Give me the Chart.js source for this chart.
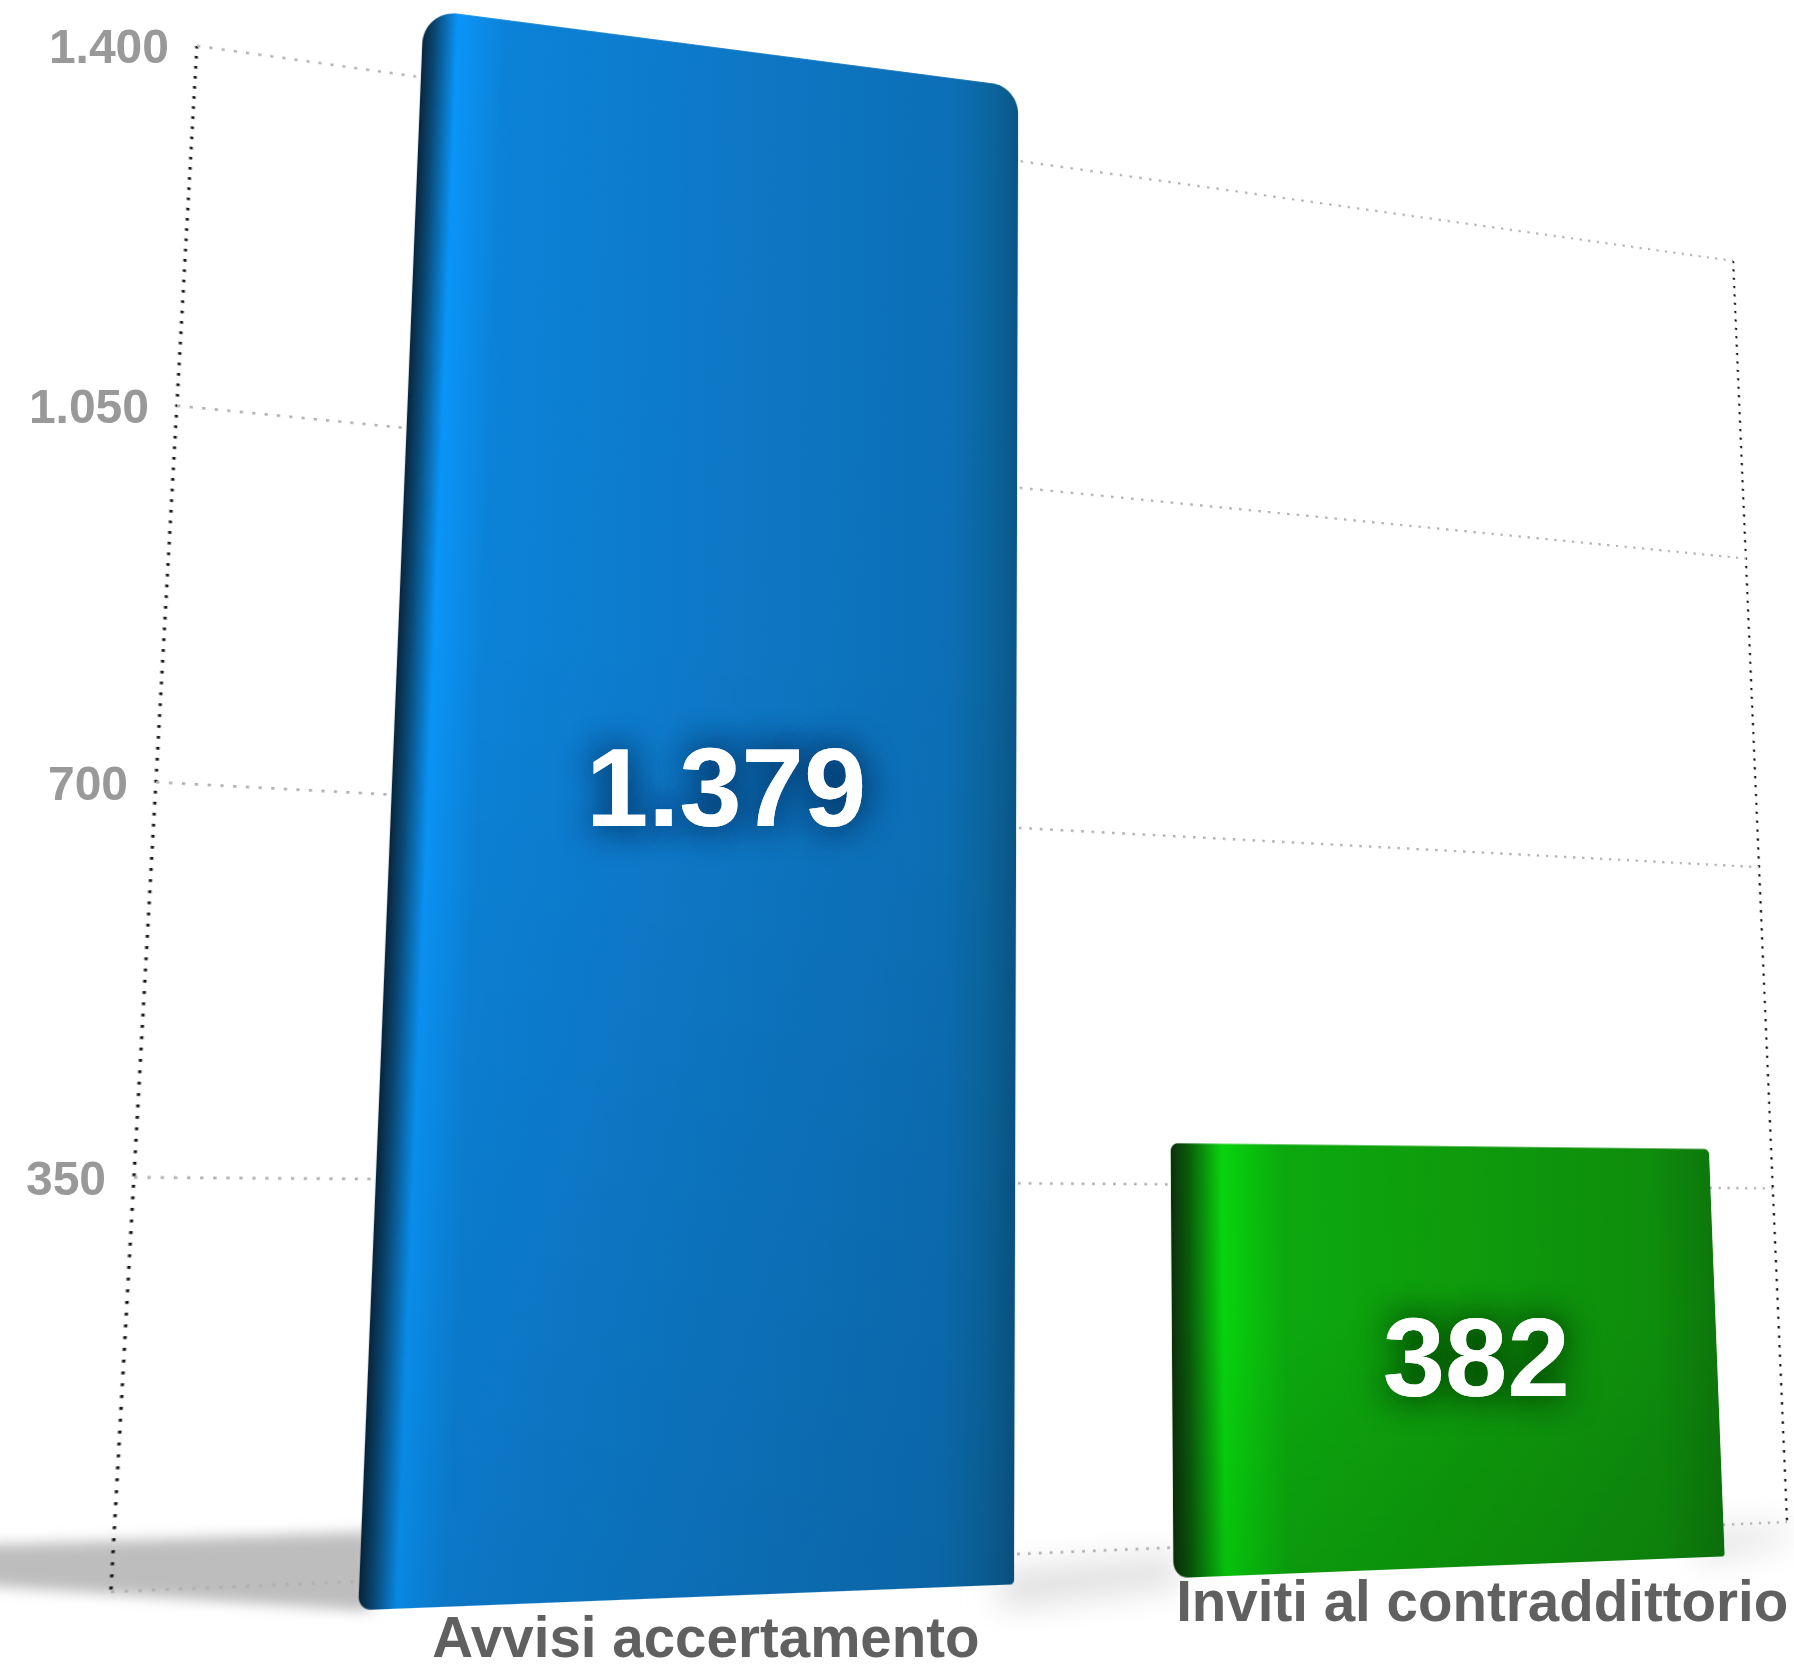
<!DOCTYPE html>
<html>
<head>
<meta charset="utf-8">
<title>Avvisi accertamento e inviti al contraddittorio</title>
<script src="https://cdn.jsdelivr.net/npm/chart.js@4/dist/chart.umd.min.js"></script>
<style>
  html, body { margin: 0; padding: 0; background: #fff; overflow: hidden; }
  #stage { position: relative; width: 1794px; height: 1665px; overflow: hidden; }
  #stage canvas, #stage svg { position: absolute; left: 0; top: 0; transform-origin: 0 0; }
</style>
</head>
<body>
<div id="stage">
  <svg width="1794" height="1665">
    <defs>
      <filter id="soft" x="-20%" y="-50%" width="140%" height="200%"><feGaussianBlur stdDeviation="7"/></filter>
      <filter id="softer" x="-30%" y="-80%" width="160%" height="260%"><feGaussianBlur stdDeviation="16"/></filter>
    </defs>
    <polygon points="-40,1546 370,1532 370,1611 -40,1584" fill="#bdbdbd" filter="url(#soft)"/>
    <polygon points="1000,1572 1180,1555 1180,1585 1000,1608" fill="#dedede" filter="url(#softer)"/>
    <polygon points="1700,1530 1790,1525 1790,1540 1700,1565" fill="#e4e4e4" filter="url(#softer)"/>
  </svg>
  <canvas id="backChart" width="1794" height="1665"></canvas>
  <canvas id="frontChart" width="1794" height="1665"></canvas>
  <canvas id="labels" width="1794" height="1665"></canvas>
</div>
<script>
const categories = ['Avvisi accertamento', 'Inviti al contraddittorio'];
const values = [1379, 382];
const valueLabels = ['1.379', '382'];
const tickValues = [0, 350, 700, 1050, 1400];
const tickLabels = ['', '350', '700', '1.050', '1.400'];

// where the plot and the bars land on the page (perspective of the picture)
const backQuad = [[197, 46], [1733, 261], [1787, 1522], [111, 1592]];
const frontQuad = [
    [[428, 5], [1014, 89], [1011, 1585], [360, 1613]],
    [[1169, 1147], [1711, 1152], [1728, 1552], [1171, 1575]]
];

const barStops = [
    [[0, '#08263c'], [0.02, '#0a4a78'], [0.055, '#0a95f8'], [0.13, '#0c82d8'], [0.5, '#0d78c6'], [0.88, '#0c6fb6'], [0.95, '#0b669f'], [1, '#0a5688']],
    [[0, '#0a300a'], [0.03, '#0a5a0a'], [0.09, '#08d40e'], [0.2, '#0ca80e'], [0.5, '#0e9c0c'], [0.88, '#0e8d0c'], [1, '#0d780c']]
];
const glowColors = ['rgba(0, 45, 90, 0.75)', 'rgba(0, 60, 0, 0.75)'];
const categoryNudge = [[8, 44], [24, 38]];
const valueNudge = [[11, 9], [23, 11]];

function solveLinear(a, b) {
    const n = b.length;
    for (let i = 0; i < n; i++) {
        let p = i;
        for (let r = i + 1; r < n; r++) if (Math.abs(a[r][i]) > Math.abs(a[p][i])) p = r;
        [a[i], a[p]] = [a[p], a[i]];
        [b[i], b[p]] = [b[p], b[i]];
        for (let r = i + 1; r < n; r++) {
            const f = a[r][i] / a[i][i];
            for (let c = i; c < n; c++) a[r][c] -= f * a[i][c];
            b[r] -= f * b[i];
        }
    }
    const x = new Array(n);
    for (let i = n - 1; i >= 0; i--) {
        let s = b[i];
        for (let c = i + 1; c < n; c++) s -= a[i][c] * x[c];
        x[i] = s / a[i][i];
    }
    return x;
}

// least squares homography from chart pixels to page pixels
function fitHomography(from, to) {
    const ata = Array.from({ length: 8 }, () => new Array(8).fill(0));
    const atb = new Array(8).fill(0);
    from.forEach(function(p, i) {
        const [x, y] = p, [u, v] = to[i];
        const rows = [
            [[x, y, 1, 0, 0, 0, -u * x, -u * y], u],
            [[0, 0, 0, x, y, 1, -v * x, -v * y], v]
        ];
        rows.forEach(function([r, t]) {
            for (let a = 0; a < 8; a++) {
                atb[a] += r[a] * t;
                for (let b = 0; b < 8; b++) ata[a][b] += r[a] * r[b];
            }
        });
    });
    return solveLinear(ata, atb);
}

function applyHomography(h, x, y) {
    const w = h[6] * x + h[7] * y + 1;
    return [(h[0] * x + h[1] * y + h[2]) / w, (h[3] * x + h[4] * y + h[5]) / w];
}

function setPerspective(canvas, h) {
    const m = [h[0], h[3], 0, h[6], h[1], h[4], 0, h[7], 0, 0, 1, 0, h[2], h[5], 0, 1];
    canvas.style.transform = 'matrix3d(' + m.join(',') + ')';
}

const backChart = new Chart(document.getElementById('backChart'), {
    type: 'line',
    data: { labels: ['', ''], datasets: [{ data: [] }] },
    options: {
        responsive: false,
        animation: false,
        devicePixelRatio: 2,
        layout: { padding: 60 },
        plugins: { legend: { display: false }, tooltip: { enabled: false } },
        scales: {
            x: {
                offset: false,
                ticks: { display: false },
                grid: { color: '#111', lineWidth: 2.8, drawTicks: false },
                border: { display: false, dash: [2.8, 8.2] }
            },
            y: {
                min: 0,
                max: 1400,
                afterBuildTicks: function(axis) { axis.ticks = tickValues.map(v => ({ value: v })); },
                ticks: { display: false },
                grid: { color: '#b0b0b0', lineWidth: 2.8, drawTicks: false },
                border: { display: false, dash: [2.8, 8.2] }
            }
        }
    }
});

const frontChart = new Chart(document.getElementById('frontChart'), {
    type: 'bar',
    data: {
        labels: categories,
        datasets: [{
            label: 'Atti',
            data: values,
            barPercentage: 0.79,
            categoryPercentage: 1,
            borderSkipped: false,
            borderRadius: [
                { topLeft: 36, topRight: 30, bottomLeft: 12, bottomRight: 4 },
                { topLeft: 8, topRight: 6, bottomLeft: 16, bottomRight: 3 }
            ],
            backgroundColor: ['#0d78c6', '#0e9c0c']
        }]
    },
    options: {
        responsive: false,
        animation: false,
        devicePixelRatio: 2,
        layout: { padding: 60 },
        plugins: { legend: { display: false }, tooltip: { enabled: false } },
        scales: {
            x: { display: false },
            y: { display: false, min: 0, max: 1400 }
        }
    }
});

// bar shading: dark rim, bright strip, darker towards the bottom
function barPattern(bar, stops) {
    const off = document.createElement('canvas');
    off.width = 1794;
    off.height = 1665;
    const g = off.getContext('2d');
    const left = bar.x - bar.width / 2;
    const across = g.createLinearGradient(left, 0, left + bar.width, 0);
    stops.forEach(s => across.addColorStop(s[0], s[1]));
    g.fillStyle = across;
    g.fillRect(0, 0, off.width, off.height);
    const down = g.createLinearGradient(0, bar.y, 0, bar.base);
    down.addColorStop(0.4, 'rgba(0, 0, 0, 0)');
    down.addColorStop(1, 'rgba(0, 0, 0, 0.09)');
    g.fillStyle = down;
    g.fillRect(0, 0, off.width, off.height);
    return frontChart.ctx.createPattern(off, 'no-repeat');
}

const bars = frontChart.getDatasetMeta(0).data;
frontChart.data.datasets[0].backgroundColor = bars.map((b, i) => barPattern(b, barStops[i]));
frontChart.update('none');

const area = backChart.chartArea;
const backH = fitHomography(
    [[area.left, area.top], [area.right, area.top], [area.right, area.bottom], [area.left, area.bottom]],
    backQuad
);
setPerspective(backChart.canvas, backH);

const fromPts = [], toPts = [];
bars.forEach(function(b, i) {
    const l = b.x - b.width / 2, r = b.x + b.width / 2;
    fromPts.push([l, b.y], [r, b.y], [r, b.base], [l, b.base]);
    toPts.push(...frontQuad[i]);
});
const frontH = fitHomography(fromPts, toPts);
setPerspective(frontChart.canvas, frontH);

// text stays upright, so it is drawn flat at the projected positions
const ctx = document.getElementById('labels').getContext('2d');
ctx.textBaseline = 'middle';

ctx.font = 'bold 48px "Liberation Sans"';
ctx.fillStyle = '#999999';
ctx.textAlign = 'right';
tickValues.forEach(function(v, i) {
    const p = applyHomography(backH, area.left, backChart.scales.y.getPixelForValue(v));
    ctx.fillText(tickLabels[i], p[0] - 28, p[1] + 4);
});

ctx.textAlign = 'center';
ctx.font = 'bold 56.5px "Liberation Sans"';
ctx.fillStyle = '#606060';
categories.forEach(function(name, i) {
    const p = applyHomography(frontH, bars[i].x, bars[i].base);
    ctx.fillText(name, p[0] + categoryNudge[i][0], p[1] + categoryNudge[i][1]);
});

ctx.font = 'bold 112px "Liberation Sans"';
ctx.fillStyle = '#ffffff';
valueLabels.forEach(function(text, i) {
    const p = applyHomography(frontH, bars[i].x, (bars[i].y + bars[i].base) / 2);
    const x = p[0] + valueNudge[i][0], y = p[1] + valueNudge[i][1];
    ctx.shadowColor = glowColors[i];
    ctx.shadowBlur = 34;
    ctx.fillText(text, x, y);
    ctx.fillText(text, x, y);
    ctx.shadowBlur = 0;
});
</script>
</body>
</html>
